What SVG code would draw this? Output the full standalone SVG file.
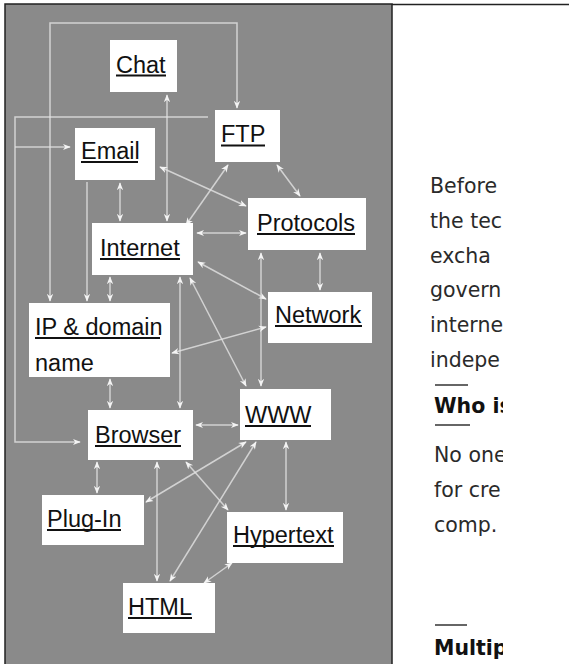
<svg xmlns="http://www.w3.org/2000/svg" width="569" height="664" viewBox="0 0 569 664">
<style>
.box{fill:#fff}
.lbl{font-family:"Liberation Sans",Arial,sans-serif;font-size:23.5px;fill:#111}
.ul{stroke:#111;stroke-width:2}
.con{fill:none;stroke:#e4e4e4;stroke-width:1.5;stroke-opacity:0.8;marker-start:url(#ah);marker-end:url(#ah)}
.one{fill:none;stroke:#e4e4e4;stroke-width:1.5;stroke-opacity:0.8;marker-end:url(#ah)}
.rt{font-family:"DejaVu Sans",Verdana,sans-serif;font-size:20.5px;fill:#2a2a2a}
.rb{font-family:"DejaVu Sans",Verdana,sans-serif;font-size:20.5px;font-weight:bold;fill:#111}
.rule{stroke:#333;stroke-width:1.5}
</style>
<defs>
<marker id="ah" viewBox="0 0 10 10" refX="9" refY="5" markerWidth="8" markerHeight="8" markerUnits="userSpaceOnUse" orient="auto-start-reverse">
<path d="M0,1 L10,5 L0,9 L3,5 Z" fill="#f4f4f4"/>
</marker>
<clipPath id="clipR"><rect x="392" y="0" width="111" height="664"/></clipPath>
</defs>
<rect x="0" y="0" width="569" height="664" fill="#fff"/>
<rect x="5" y="4" width="387" height="662" fill="#8a8a8a" stroke="#222" stroke-width="1.5"/>
<line x1="392" y1="4.5" x2="569" y2="4.5" stroke="#222" stroke-width="1.5"/>

<g id="connectors">
<path class="con" d="M50,301 V23 H237 V108"/>
<path class="one" d="M208,117 H15 V442 H80"/>
<path class="one" d="M15,147 H70"/>
<path class="con" d="M167,95 V221"/>
<path class="con" d="M120,183 V221"/>
<path class="one" d="M87,182 V301"/>
<path class="con" d="M110,277 V301"/>
<path class="con" d="M160,167 L246,206"/>
<path class="con" d="M228,165 L186,225"/>
<path class="con" d="M277,165 L300,196"/>
<path class="con" d="M197,233 H246"/>
<path class="con" d="M198,262 L266,299"/>
<path class="con" d="M190,278 L246,386"/>
<path class="con" d="M261,253 V386"/>
<path class="con" d="M320,253 V290"/>
<path class="con" d="M266,327 L172,353"/>
<path class="con" d="M110,379 V408"/>
<path class="con" d="M180,277 V408"/>
<path class="con" d="M196,425 H238"/>
<path class="con" d="M97,462 V493"/>
<path class="con" d="M157,462 V581"/>
<path class="con" d="M186,462 L228,510"/>
<path class="con" d="M246,442 L146,502"/>
<path class="con" d="M256,442 L170,581"/>
<path class="con" d="M286,442 V510"/>
<path class="con" d="M232,563 L204,583"/>
</g>

<g id="chat"><rect class="box" x="110" y="40" width="67" height="52"/><text class="lbl" x="116" y="73">Chat</text><line class="ul" x1="116" y1="75.5" x2="166" y2="75.5"/></g>
<g id="email"><rect class="box" x="75" y="128" width="80" height="52"/><text class="lbl" x="81" y="159">Email</text><line class="ul" x1="81" y1="162" x2="138" y2="162"/></g>
<g id="ftp"><rect class="box" x="215" y="110" width="65" height="52"/><text class="lbl" x="221" y="142">FTP</text><line class="ul" x1="221" y1="145.5" x2="265" y2="145.5"/></g>
<g id="internet"><rect class="box" x="92" y="223" width="101" height="52"/><text class="lbl" x="100" y="256">Internet</text><line class="ul" x1="100" y1="259" x2="180" y2="259"/></g>
<g id="protocols"><rect class="box" x="248" y="198" width="118" height="52"/><text class="lbl" x="257" y="231">Protocols</text><line class="ul" x1="257" y1="234" x2="355" y2="234"/></g>
<g id="network"><rect class="box" x="268" y="292" width="104" height="51"/><text class="lbl" x="275" y="323">Network</text><line class="ul" x1="275" y1="326" x2="362" y2="326"/></g>
<g id="ipdomain"><rect class="box" x="29" y="303" width="141" height="74"/><text class="lbl" x="35" y="335">IP &amp; domain</text><line class="ul" x1="35" y1="338" x2="160" y2="338"/><text class="lbl" x="35" y="371">name</text></g>
<g id="browser"><rect class="box" x="88" y="410" width="105" height="50"/><text class="lbl" x="95" y="443">Browser</text><line class="ul" x1="95" y1="446" x2="181" y2="446"/></g>
<g id="www"><rect class="box" x="240" y="389" width="91" height="51"/><text class="lbl" x="245" y="423">WWW</text><line class="ul" x1="245" y1="426" x2="311" y2="426"/></g>
<g id="plugin"><rect class="box" x="42" y="495" width="102" height="50"/><text class="lbl" x="47" y="527">Plug-In</text><line class="ul" x1="47" y1="530" x2="121" y2="530"/></g>
<g id="hypertext"><rect class="box" x="227" y="512" width="116" height="51"/><text class="lbl" x="233" y="543">Hypertext</text><line class="ul" x1="233" y1="546" x2="334" y2="546"/></g>
<g id="html"><rect class="box" x="123" y="583" width="92" height="50"/><text class="lbl" x="128" y="615">HTML</text><line class="ul" x1="128" y1="618" x2="192" y2="618"/></g>

<g id="sidetext" clip-path="url(#clipR)">
<text class="rt" x="430" y="193">Before</text>
<text class="rt" x="430" y="228">the tec</text>
<text class="rt" x="430" y="263">excha</text>
<text class="rt" x="430" y="297">govern</text>
<text class="rt" x="430" y="332">interne</text>
<text class="rt" x="430" y="367">indepe</text>
<line class="rule" x1="435" y1="385" x2="468" y2="385"/>
<text class="rb" x="434" y="413">Who is</text>
<line class="rule" x1="435" y1="425" x2="470" y2="425"/>
<text class="rt" x="434" y="462">No one</text>
<text class="rt" x="434" y="497">for cre</text>
<text class="rt" x="434" y="532">comp.</text>
<line class="rule" x1="435" y1="625" x2="467" y2="625"/>
<text class="rb" x="434" y="655">Multipl</text>
</g>
</svg>
